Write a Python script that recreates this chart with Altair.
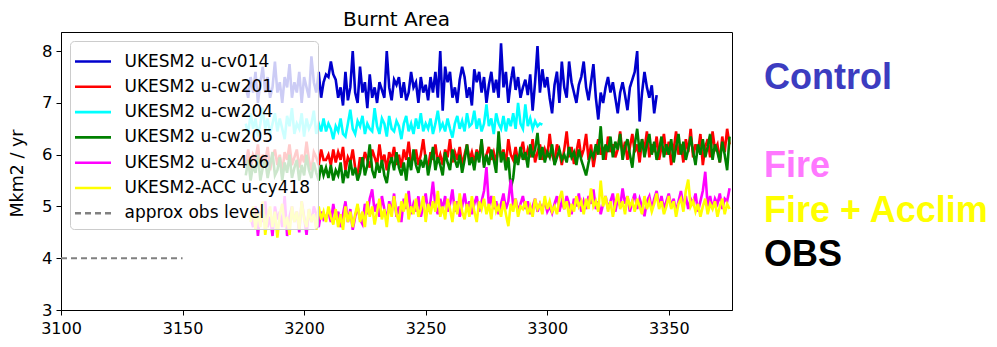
import altair as alt
import pandas as pd

# ---------------- data ----------------
names = ["UKESM2 u-cv014", "UKESM2 u-cw201", "UKESM2 u-cw204", "UKESM2 u-cw205",
         "UKESM2 u-cx466", "UKESM2-ACC u-cy418", "approx obs level"]
colors = ["#0000cd", "#ff0000", "#00ffff", "#008000", "#ff00ff", "#ffff00", "#808080"]

start_years = [3176, 3176, 3176, 3176, 3178, 3178]

blue = [7.3, 7.1, 7.5, 7.2, 7.6, 7.0, 7.4, 7.7, 7.2, 7.5,
        7.1, 7.3, 7.8, 7.2, 7.4, 7.0, 7.5, 7.3, 7.75, 7.1,
        7.4, 7.2, 7.6, 7.0, 7.5, 7.3, 7.1, 7.9, 7.4, 7.2,
        7.6, 7.1, 7.4,
        7.55, 7.5, 7.8, 7.55, 7.45, 7.1, 7.3, 6.95, 7.6, 7.05,
        7.3, 8.0, 7.2, 7.0, 7.7, 7.2, 7.4, 6.9, 7.55, 7.1,
        7.3, 7.0, 7.4, 7.25, 7.1, 8.0, 7.3, 7.05, 7.45, 7.35,
        7.5, 7.1, 7.4, 7.05, 7.2, 7.6, 7.3, 7.4, 7.0, 7.5,
        7.2, 7.35, 7.05, 7.5, 7.2, 7.6, 7.1, 8.0, 6.85, 7.7,
        7.4, 7.6, 7.1, 7.3, 7.0, 7.45, 7.7, 7.5, 7.1, 7.3,
        6.95, 7.65, 7.4, 7.6, 7.2, 7.5, 7.0, 7.35, 7.6, 7.2,
        7.45, 7.1, 8.15, 7.3, 7.6, 7.0, 7.4, 7.7, 7.25, 7.5,
        7.1, 7.3, 7.45, 7.15, 7.55, 6.85, 7.4, 8.1, 7.2, 7.65,
        7.3, 7.5, 7.1, 6.8, 7.35, 7.6, 7.0, 7.8, 7.3, 7.1,
        7.8, 7.4, 7.2, 7.0, 7.35, 7.5, 7.8, 7.3, 7.05, 7.4,
        7.75, 7.1, 6.68, 7.2, 7.0, 7.3, 7.5, 7.2, 7.4, 7.1,
        6.8, 7.2, 7.4, 7.15, 6.86, 7.3, 7.45, 7.6, 8.0, 6.64,
        7.2, 7.6, 7.3, 7.1, 7.34, 6.8, 7.15]

cyan = [6.6, 6.4, 6.8, 6.5, 6.7, 6.35, 6.6, 6.9, 6.5, 6.7,
        6.4, 6.6, 6.8, 6.45, 6.7, 6.5, 6.3, 6.75, 6.55, 6.9,
        6.4, 6.6, 6.5, 6.8, 6.35, 6.7, 6.5, 6.6, 6.85, 6.4,
        6.6, 6.45, 6.7,
        6.45, 6.6, 6.5, 6.3, 6.55, 6.45, 6.7, 6.4, 6.35, 6.6,
        6.87, 6.5, 6.4, 6.65, 6.55, 6.75, 6.4, 6.6, 6.5, 6.45,
        6.9, 6.55, 6.4, 6.7, 6.6, 6.35, 6.75, 6.5, 6.45, 6.65,
        6.55, 6.3, 6.6, 6.75, 6.45, 6.6, 6.4, 6.7, 6.5, 6.8,
        6.45, 6.6, 6.5, 6.7, 6.4, 6.6, 6.85, 6.5, 6.6, 6.45,
        6.7, 6.5, 6.33, 6.6, 6.75, 6.5, 6.65, 6.45, 6.8, 6.55,
        6.6, 6.85, 6.5, 6.7, 6.45, 6.6, 6.97, 6.55, 6.7, 6.4,
        6.8, 6.6, 6.5, 6.75, 6.45, 6.7, 6.55, 6.8, 6.5, 7.0,
        6.6, 6.5, 6.97, 6.55, 6.7, 6.5, 6.65, 6.55, 6.6, 6.58]

red = [5.8, 6.1, 5.7, 6.0, 5.9, 6.2, 5.75, 6.0, 5.85, 6.15,
       5.7, 5.95, 6.1, 5.8, 6.0, 5.65, 6.05, 5.9, 6.2, 5.8,
       5.95, 6.1, 5.75, 6.0, 5.85, 6.25, 5.9, 5.7, 6.05, 5.95,
       5.8, 6.1, 5.9,
       5.9, 6.0, 5.8, 6.1, 5.85, 6.05, 5.9, 6.15, 5.7, 5.95,
       5.85, 6.1, 5.75, 5.6, 5.95, 5.8, 6.05, 5.9, 5.75, 6.1,
       5.95, 5.8, 6.2, 5.85, 6.0, 5.7, 6.05, 5.9, 6.15, 5.8,
       6.0, 5.75, 6.1, 5.9, 6.25, 5.85, 5.95, 6.1, 5.8, 6.0,
       6.3, 5.9, 5.75, 6.05, 5.9, 6.2, 5.85, 6.0, 5.8, 6.1,
       5.95, 6.3, 5.85, 6.05, 5.9, 6.15, 5.8, 6.0, 6.2, 5.9,
       6.05, 5.85, 6.1, 5.95, 6.25, 5.8, 6.0, 6.15, 5.9, 6.05,
       5.85, 6.2, 5.95, 6.1, 5.8, 6.3, 6.0, 5.9, 6.15, 5.85,
       6.05, 6.25, 5.9, 6.1, 5.95, 6.3, 5.85, 6.05, 6.2, 5.9,
       6.1, 5.95, 6.4, 6.0, 5.85, 6.2, 6.05, 5.8, 6.1, 6.45,
       5.95, 6.15, 5.82, 6.05, 6.3, 5.95, 6.1, 6.4, 5.9, 6.2,
       5.76, 6.05, 6.3, 6.0, 6.15, 5.9, 6.35, 6.05, 6.2, 5.95,
       6.1, 6.45, 6.0, 6.25, 5.9, 6.15, 6.4, 6.05, 6.2, 5.85,
       6.3, 6.1, 6.45, 5.95, 6.2, 6.05, 6.35, 5.9, 6.15, 6.4,
       6.0, 6.25, 5.8, 6.1, 6.45, 6.0, 6.2, 5.85, 6.3, 6.05,
       6.5, 5.95, 6.2, 6.05, 6.4, 5.8, 6.15, 6.3, 5.95, 6.45,
       6.1, 6.2, 5.85, 6.35, 6.05, 6.5, 6.2]

green = [5.6, 5.9, 5.5, 5.8, 5.65, 6.0, 5.5, 5.75, 5.9, 5.55,
         5.8, 6.05, 5.6, 5.7, 5.95, 5.5, 5.85, 5.65, 6.0, 5.55,
         5.75, 5.9, 5.5, 5.8, 5.6, 6.0, 5.7, 5.55, 5.85, 5.65,
         5.5, 5.8, 5.6,
         5.75, 5.55, 5.8, 5.5, 5.7, 5.6, 5.85, 5.45, 5.7, 5.55,
         5.9, 5.6, 5.75, 5.5, 5.65, 5.95, 5.6, 5.8, 6.2, 5.7,
         5.55, 5.85, 5.65, 5.9, 5.6, 5.45, 5.8, 5.95, 5.7, 6.05,
         5.75, 5.6, 5.85, 5.5, 5.95, 5.7, 6.1, 5.8, 5.65, 5.9,
         5.75, 6.0, 5.6, 5.85, 6.15, 5.7, 5.95, 5.8, 5.6, 6.05,
         5.85, 5.7, 6.1, 5.9, 5.75, 6.0, 5.65, 5.9, 6.2, 5.8,
         5.95, 5.7, 6.05, 5.85, 6.3, 5.75, 6.0, 5.8, 6.1, 5.9,
         5.65, 6.45, 5.85, 6.05, 5.7, 5.95, 5.35, 5.55, 6.0, 5.8,
         6.15, 5.9, 6.05, 5.75, 6.2, 5.95, 6.1, 6.42, 5.9, 6.15,
         5.85, 6.05, 5.95, 6.2, 5.8, 5.95, 6.1, 5.9, 6.0, 5.85,
         6.15, 5.95, 6.05, 5.8, 6.1, 5.9, 5.75, 5.6, 5.85, 6.05,
         5.95, 6.2, 6.0, 6.55, 5.9, 6.2, 6.05, 6.35, 5.95, 6.25,
         6.1, 6.4, 5.9, 6.15, 6.3, 6.0, 5.75, 6.2, 6.5, 6.05,
         6.3, 5.95, 6.2, 6.4, 6.0, 6.25, 5.9, 6.1, 6.35, 5.95,
         6.2, 6.0, 6.3, 5.85, 6.15, 6.4, 6.0, 6.25, 5.9, 6.1,
         6.35, 6.05, 5.8, 6.2, 6.0, 6.3, 5.95, 6.15, 6.4, 5.9,
         6.2, 6.05, 5.85, 6.25, 6.0, 5.7, 6.35]

magenta = [4.8, 4.6, 5.0, 4.43, 4.9, 4.7, 5.1, 4.6, 4.8, 4.43,
           5.0, 4.75, 4.9, 4.6, 5.2, 4.43, 4.8, 5.0, 4.7, 4.9,
           4.5, 5.1, 4.8, 4.45, 4.95, 4.7, 5.0, 4.85, 4.6, 4.9,
           4.75,
           4.8, 4.9, 4.7, 5.05, 4.75, 4.9, 4.6, 4.85, 5.1, 4.7,
           4.95, 4.55, 4.8, 5.0, 4.75, 4.66, 5.05, 4.85, 5.15, 5.33,
           4.9, 5.05, 4.8, 5.2, 4.95, 4.75, 5.1, 4.9, 5.25, 4.8,
           5.0, 4.7, 5.15, 4.95, 5.3, 4.85, 5.05, 4.9, 5.2, 4.8,
           5.0, 5.25, 4.9, 5.1, 5.48, 5.0, 4.85, 5.15, 4.95, 5.2,
           4.9, 5.05, 5.33, 4.9, 5.1, 4.8, 5.0, 5.25, 4.95, 5.1,
           4.85, 5.05, 5.2, 4.9, 5.1, 5.3, 5.76, 5.0, 5.2, 4.95,
           5.1, 4.85, 5.05, 5.25, 4.95, 5.1, 5.52, 5.0, 5.15, 4.9,
           5.05, 5.2, 4.95, 5.1, 4.85, 5.0, 5.15, 4.9, 5.05, 4.95,
           5.1, 4.9, 5.0, 4.87, 5.05, 5.2, 4.9, 5.1, 4.95, 5.2,
           5.05, 4.85, 5.15, 5.0, 5.25, 4.9, 5.1, 4.95, 5.2, 5.05,
           5.33, 4.95, 5.1, 4.85, 5.05, 5.2, 4.95, 5.1, 5.25, 4.9,
           5.15, 5.0, 5.35, 5.05, 5.2, 4.9, 5.1, 5.25, 4.95, 5.15,
           5.0, 4.81, 5.1, 5.2, 4.95, 5.15, 5.3, 5.0, 5.2, 4.95,
           5.1, 5.25, 5.0, 5.15, 4.9, 5.1, 5.3, 5.0, 5.2, 4.95,
           5.15, 5.05, 5.25, 4.9, 5.1, 5.3, 5.67, 5.0, 5.2, 4.95,
           5.15, 5.05, 5.25, 4.95, 5.15, 5.1, 5.35]

yellow = [4.7, 5.0, 4.55, 4.9, 4.6, 5.1, 4.45, 4.8, 5.0, 4.6,
          4.9, 4.4, 4.85, 5.05, 4.6, 4.8, 4.45, 5.0, 4.7, 4.9,
          4.55, 5.1, 4.75, 4.6, 4.95, 4.7, 4.85, 4.55, 5.0, 4.75,
          4.9,
          4.7, 5.0, 4.8, 4.65, 4.95, 4.6, 4.85, 4.55, 5.0, 4.7,
          4.9, 4.6, 4.85, 5.05, 4.7, 4.9, 4.6, 5.1, 4.8, 5.0,
          4.65, 4.9, 5.15, 4.75, 4.95, 4.6, 5.05, 4.8, 5.2, 4.85,
          4.7, 5.1, 4.9, 5.25, 4.75, 5.0, 4.85, 5.15, 4.8, 4.95,
          5.2, 4.7, 5.05, 4.85, 5.1, 4.9, 5.3, 4.8, 5.0, 4.75,
          5.15, 4.95, 4.7, 5.1, 4.85, 5.25, 4.9, 4.75, 5.05, 4.8,
          5.2, 4.9, 4.7, 5.1, 4.95, 5.15, 4.85, 5.05, 4.75, 5.2,
          4.9, 5.0, 4.8, 5.1, 4.85, 4.62, 5.05, 4.9, 5.15, 4.8,
          5.0, 4.95, 5.1, 4.85, 5.0, 4.8, 5.15, 4.95, 5.05, 4.85,
          5.2, 4.95, 5.1, 4.9, 5.0, 4.85, 5.15, 5.3, 4.95, 5.1,
          4.8, 5.05, 4.9, 5.2, 5.0, 5.1, 4.85, 5.15, 4.95, 5.35,
          5.0, 5.1, 4.9, 5.5, 5.0, 5.2, 4.9, 5.1, 4.8, 5.05,
          5.25, 4.95, 5.1, 4.85, 5.2, 5.0, 5.1, 4.9, 5.15, 5.0,
          4.85, 5.2, 4.95, 5.1, 4.9, 5.05, 5.25, 4.95, 5.1, 4.85,
          5.0, 5.2, 4.95, 5.1, 4.8, 5.05, 5.15, 4.9, 5.3, 5.52,
          5.0, 5.1, 4.9, 5.05, 4.8, 5.0, 5.15, 4.85, 5.05, 4.95,
          5.1, 4.8, 5.0, 5.15, 4.85, 5.05, 4.95]

obs_years = [3100, 3150]
obs_values = [4.0, 4.0]

x_ticks = [3100, 3150, 3200, 3250, 3300, 3350]
y_ticks = [3, 4, 5, 6, 7, 8]

ann_texts = ["Control", "Fire", "Fire + Acclim", "OBS"]
ann_colors = ["#3c3cc0", "#ff78ff", "#ffff00", "#000000"]

# ---------------- build ----------------
series_values = [blue, red, cyan, green, magenta, yellow]
frames = []
for name, start, vals in zip(names[:6], start_years, series_values):
    frames.append(pd.DataFrame({"year": list(range(start, start + len(vals))),
                                "value": vals, "series": name}))
frames.append(pd.DataFrame({"year": obs_years, "value": obs_values, "series": names[6]}))

dash_range = [[1, 0]] * 6 + [[6, 4]]

xscale = alt.Scale(domain=[3100, 3376], nice=False, zero=False)
yscale = alt.Scale(domain=[3, 8.37], nice=False, zero=False)

legend = alt.Legend(
    title=None, orient="none", legendX=9, legendY=9,
    fillColor="rgba(255,255,255,0.8)", strokeColor="#cccccc", cornerRadius=4,
    padding=7, labelFont="DejaVu Sans", labelFontSize=17, labelColor="#000000",
    symbolType="M-1.5,0H1.5", symbolSize=576, symbolStrokeWidth=2.6,
    symbolOffset=2.5, labelOffset=18, rowPadding=3.3, labelLimit=400, zindex=1,
)

xaxis = alt.Axis(values=x_ticks, format="d", title=None, grid=False,
                 labelFont="DejaVu Sans", labelFontSize=16, labelColor="#000000",
                 tickColor="#000000", tickSize=5, labelPadding=5,
                 domainColor="#000000", labelFlush=False)
yaxis = alt.Axis(values=y_ticks, format="d", title="Mkm2 / yr", grid=False,
                 labelFont="DejaVu Sans", labelFontSize=16.5, labelColor="#000000",
                 tickColor="#000000", tickSize=5, labelPadding=4,
                 domainColor="#000000", titleFont="DejaVu Sans", titleFontSize=17.5,
                 titleFontWeight="normal", titleColor="#000000",
                 titleX=-44, titleY=141, titleAngle=-90, titleBaseline="middle",
                 titleAlign="center")

layers = []
for i, df in enumerate(frames):
    layers.append(
        alt.Chart(df).mark_line(strokeWidth=2.6 if i < 6 else 1.8, clip=True).encode(
            x=alt.X("year:Q", scale=xscale, axis=xaxis),
            y=alt.Y("value:Q", scale=yscale, axis=yaxis),
            color=alt.Color("series:N", scale=alt.Scale(domain=names, range=colors), legend=legend),
            strokeDash=alt.StrokeDash("series:N", scale=alt.Scale(domain=names, range=dash_range), legend=legend),
        )
    )

ann_pos = [(703, 57), (703, 145), (703, 190), (703, 234)]
for t, c, (px, py) in zip(ann_texts, ann_colors, ann_pos):
    layers.append(
        alt.Chart(pd.DataFrame({"t": [t]})).mark_text(
            align="left", baseline="alphabetic", font="Liberation Sans",
            fontWeight="bold", fontSize=36, color=c,
        ).encode(text="t:N", x=alt.value(px), y=alt.value(py))
    )

chart = alt.layer(*layers).properties(
    width=671, height=278,
    title=alt.TitleParams("Burnt Area", font="DejaVu Sans", fontSize=20,
                          fontWeight="normal", color="#000000", anchor="middle",
                          offset=2),
    padding={"left": 53, "top": 24, "right": 257, "bottom": 29},
    autosize=alt.AutoSizeParams(type="none"),
).configure_view(stroke="#000000", strokeWidth=1)

chart.save("out.html", embed_options={"renderer": "svg", "actions": False})
